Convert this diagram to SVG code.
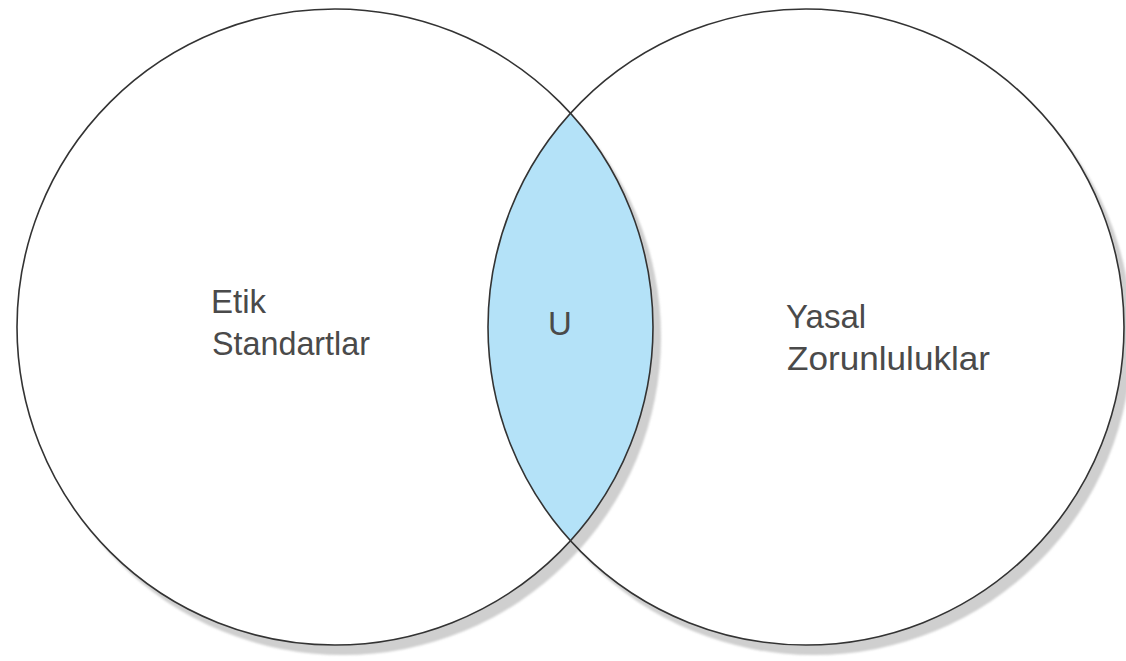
<svg xmlns="http://www.w3.org/2000/svg" width="1126" height="661" viewBox="0 0 1126 661">
  <style>
    .shadow { fill: #cfcfcf; }
    .disc { fill: #ffffff; }
    .outline { fill: none; stroke: #333333; stroke-width: 1.6; }
    .lens { fill: #b4e2f8; }
    .label { font-family: "Liberation Sans", Arial, sans-serif; font-size: 33px; fill: #4a4a4a; }
  </style>
  <defs>
    <filter id="soft" x="-5%" y="-5%" width="110%" height="110%">
      <feGaussianBlur stdDeviation="1"/>
    </filter>
    <clipPath id="clipLeft">
      <circle cx="335" cy="327" r="318"/>
    </clipPath>
  </defs>
  <rect width="1126" height="661" fill="#ffffff"/>
  <g id="right-circle-bg">
    <circle class="shadow" cx="814" cy="337" r="318" filter="url(#soft)"/>
    <circle class="disc" cx="806" cy="327" r="318"/>
  </g>
  <g id="left-circle-bg">
    <circle class="shadow" cx="343" cy="337" r="318" filter="url(#soft)"/>
    <circle class="disc" cx="335" cy="327" r="318"/>
  </g>
  <g id="intersection">
    <circle class="lens" cx="806" cy="327" r="318" clip-path="url(#clipLeft)"/>
  </g>
  <g id="outlines">
    <circle class="outline" cx="335" cy="327" r="318"/>
    <circle class="outline" cx="806" cy="327" r="318"/>
  </g>
  <g id="left-label">
    <text class="label" x="211" y="313">Etik</text>
    <text class="label" x="212" y="355" textLength="158" lengthAdjust="spacingAndGlyphs">Standartlar</text>
  </g>
  <g id="center-label">
    <text class="label" x="548" y="335">U</text>
  </g>
  <g id="right-label">
    <text class="label" x="786" y="328">Yasal</text>
    <text class="label" x="787" y="370" textLength="203" lengthAdjust="spacingAndGlyphs">Zorunluluklar</text>
  </g>
</svg>
